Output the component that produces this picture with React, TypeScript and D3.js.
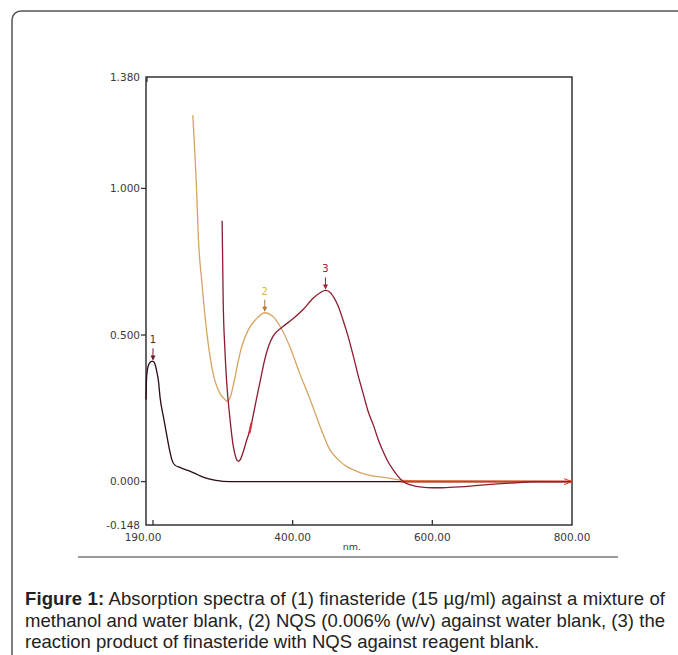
import React from 'react';
import * as d3 from 'd3';

// absorbance spectra: [wavelength nm, absorbance]
const finasteride: [number, number][] = [
  [190, 0.28], [191, 0.36], [194, 0.40], [198, 0.41], [200, 0.41], [203, 0.40],
  [205, 0.38], [208, 0.34], [210, 0.29], [215, 0.22], [220, 0.155], [224, 0.105],
  [227, 0.075], [231, 0.057], [240, 0.047], [250, 0.038], [260, 0.028], [270, 0.017],
  [280, 0.009], [290, 0.004], [300, 0.001], [320, 0], [800, 0],
];

const nqs: [number, number][] = [
  [257, 1.25], [260, 1.12], [262, 1.02], [265, 0.83], [270, 0.68], [277, 0.51],
  [286, 0.37], [296, 0.30], [303, 0.28], [307, 0.274], [311, 0.29], [317, 0.35],
  [322, 0.41], [327, 0.46], [337, 0.52], [348, 0.555], [360, 0.576], [371, 0.565],
  [382, 0.53], [396, 0.46], [410, 0.37], [425, 0.28], [439, 0.19], [453, 0.11],
  [465, 0.075], [477, 0.052], [492, 0.035], [506, 0.024], [535, 0.013], [555, 0.005],
  [580, 0.002], [800, 0],
];

const product: [number, number][] = [
  [299, 0.89], [300.5, 0.62], [303, 0.45], [305.5, 0.34], [310, 0.22], [315, 0.12],
  [319, 0.08], [322, 0.069], [325, 0.075], [329, 0.10], [334, 0.14], [339, 0.177],
  [348, 0.28], [355, 0.36], [360, 0.416], [366, 0.465], [372, 0.496], [384, 0.525],
  [396, 0.547], [405, 0.565], [415, 0.587], [430, 0.627], [440, 0.645], [447, 0.652],
  [453, 0.647], [458, 0.632], [465, 0.6], [472, 0.552], [480, 0.49], [487, 0.427],
  [494, 0.36], [501, 0.30], [508, 0.24], [516, 0.19], [523, 0.14], [530, 0.10],
  [537, 0.066], [544, 0.04], [551, 0.018], [558, 0], [570, -0.012], [585, -0.019],
  [600, -0.021], [615, -0.021], [630, -0.019], [650, -0.016], [670, -0.012],
  [693, -0.008], [720, -0.004], [747, 0], [800, 0],
];

const blankLine: [number, number][] = [[555, 0], [800, 0]];

const peaks = [
  { label: '1', nm: 200, abs: 0.41, color: '#6b1a28', arrow: '#6b1a28' },
  { label: '2', nm: 360, abs: 0.576, color: '#e0b040', arrow: '#b07a40' },
  { label: '3', nm: 447, abs: 0.652, color: '#9a2236', arrow: '#9a2236' },
];

const yTicks = [1.38, 1.0, 0.5, 0.0, -0.148];
const xTickMarks = [200, 400, 600];
const xTickLabels = [190, 400, 600, 800];

const captionLines = [
  { bold: 'Figure 1:', rest: ' Absorption spectra of (1) finasteride (15 µg/ml) against a mixture of', fit: true },
  { bold: '', rest: 'methanol and water blank, (2) NQS (0.006% (w/v) against water blank, (3) the', fit: true },
  { bold: '', rest: 'reaction product of finasteride with NQS against reagent blank.', fit: false },
];

export default function App() {
  const x = d3.scaleLinear().domain([190, 800]).range([146, 572]);
  const y = d3.scaleLinear().domain([-0.148, 1.38]).range([525, 77]);

  const line = d3.line<[number, number]>()
    .x(d => x(d[0]))
    .y(d => y(d[1]))
    .curve(d3.curveMonotoneX);

  const tickFont = { fontFamily: 'DejaVu Sans, sans-serif', fontSize: 10.5, fill: '#3a3a3a' };

  return (
    <svg width={678} height={655} style={{ position: 'absolute', left: 0, top: 0, background: '#fff' }}>
      {/* outer frame, open to the right and bottom */}
      <rect x={12} y={11} width={720} height={700} rx={9} fill="none" stroke="#555" strokeWidth={1.5} />

      {/* plot box */}
      <rect x={x(190)} y={y(1.38)} width={x(800) - x(190)} height={y(-0.148) - y(1.38)}
        fill="none" stroke="#333" strokeWidth={1.5} />

      {yTicks.map(t => (
        <g key={t}>
          {t !== 1.38 && t !== -0.148 && (
            <line x1={x(190) - 5} x2={x(190)} y1={y(t)} y2={y(t)} stroke="#333" strokeWidth={1.3} />
          )}
          <text x={x(190) - 6} y={y(t)} dy="0.35em" textAnchor="end" {...tickFont}>
            {t.toFixed(3)}
          </text>
        </g>
      ))}
      <line x1={x(190) + 1} x2={x(190) + 1} y1={y(1.38)} y2={y(1.38) + 5} stroke="#333" strokeWidth={1.3} />

      {xTickMarks.map(t => (
        <line key={t} x1={x(t)} x2={x(t)} y1={y(-0.148)} y2={y(-0.148) - 5} stroke="#333" strokeWidth={1.3} />
      ))}
      {xTickLabels.map(t => (
        <text key={t} x={x(t) - (t === 190 ? 3 : 0)} y={y(-0.148) + 16} textAnchor="middle" {...tickFont}>
          {t.toFixed(2)}
        </text>
      ))}
      <text x={352} y={550} textAnchor="middle" {...tickFont} fontSize={9.5}>nm.</text>

      {/* spectra */}
      <path d={line(finasteride) || ''} fill="none" stroke="#2a0c14" strokeWidth={1.3} />
      <path d={line(nqs) || ''} fill="none" stroke="#d6a561" strokeWidth={1.3} />
      <path d={line(blankLine) || ''} fill="none" stroke="#d9381e" strokeWidth={2} />
      <path d={line(product) || ''} fill="none" stroke="#8c1c2e" strokeWidth={1.3} />
      <line x1={x(338)} x2={x(341)} y1={y(0.165)} y2={y(0.2)} stroke="#d8303a" strokeWidth={2.2} />
      <path d={`M${x(800) - 8},${y(0) - 3} L${x(800)},${y(0)} L${x(800) - 8},${y(0) + 3}`}
        fill="none" stroke="#d9381e" strokeWidth={1} />

      {/* peak markers */}
      {peaks.map(p => (
        <g key={p.label}>
          <text x={x(p.nm)} y={y(p.abs) - 18} textAnchor="middle" fontFamily="DejaVu Sans, sans-serif"
            fontSize={10} fill={p.color}>{p.label}</text>
          <line x1={x(p.nm)} x2={x(p.nm)} y1={y(p.abs) - 13} y2={y(p.abs) - 2} stroke={p.arrow} strokeWidth={1} />
          <path d={`M${x(p.nm) - 2.5},${y(p.abs) - 6} L${x(p.nm)},${y(p.abs) - 1} L${x(p.nm) + 2.5},${y(p.abs) - 6} Z`}
            fill={p.arrow} />
        </g>
      ))}

      <line x1={78} x2={618} y1={557} y2={557} stroke="#777" strokeWidth={1.5} />

      {captionLines.map((l, i) => (
        <text key={i} x={25} y={605 + i * 21.5} fontFamily="Liberation Sans, Arial, sans-serif" fontSize={18.5}
          fill="#222" {...(l.fit ? { textLength: 640, lengthAdjust: 'spacing' } : {})}>
          {l.bold && <tspan fontWeight="bold">{l.bold}</tspan>}
          <tspan>{l.rest}</tspan>
        </text>
      ))}
    </svg>
  );
}
